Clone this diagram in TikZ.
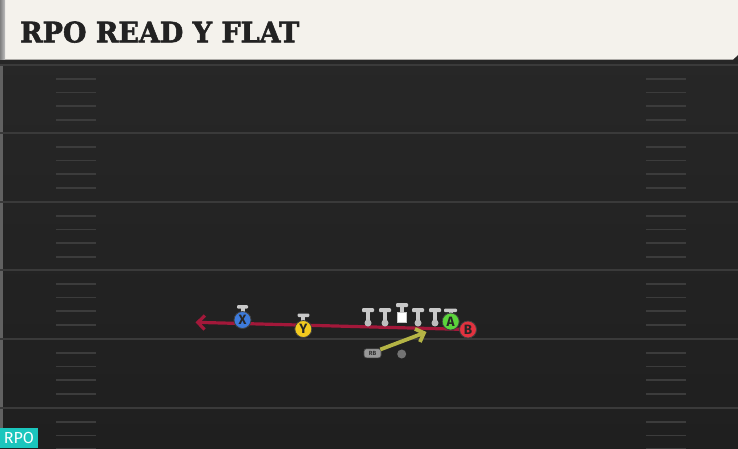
\documentclass[tikz,border=0pt]{standalone}
\usepackage{fontspec}
\setmainfont{DejaVu Serif}
\newfontfamily\titlefont{DejaVu Serif}[UprightFont=* Bold, UprightFeatures={FakeBold=2}]
\newfontfamily\fira{Fira Sans}
\usetikzlibrary{arrows.meta}
\definecolor{bgtop}{HTML}{282828}
\definecolor{bgbot}{HTML}{1F1F1F}
\definecolor{yardc}{HTML}{3A3A3A}
\definecolor{hashc}{HTML}{3C3C3C}
\definecolor{cream}{HTML}{F4F2EC}
\definecolor{titlec}{HTML}{222222}
\definecolor{teal}{HTML}{1BC6BD}
\definecolor{routered}{HTML}{A3183A}
\definecolor{routeyel}{HTML}{B4B445}
\definecolor{xblue}{HTML}{3D7BDC}
\definecolor{yyel}{HTML}{F3CB1F}
\definecolor{agreen}{HTML}{5BD43B}
\definecolor{bred}{HTML}{E2323F}
\definecolor{barc}{HTML}{C9C9C9}
\definecolor{dotc}{HTML}{BDBDBD}
\tikzset{
  yard/.style={draw=yardc, line width=2pt},
  hashmark/.style={draw=hashc, line width=1.6pt},
  skill/.style={circle, draw=black!75, line width=0.8pt, minimum size=17pt, inner sep=0pt,
    font=\fira\fontsize{13.5}{13.5}\selectfont\bfseries, text=black!85},
  stancebar/.style={fill=barc, rounded corners=1pt},
  linedot/.style={circle, fill=dotc, minimum size=7pt, inner sep=0pt},
  routeR/.style={draw=routered, line width=3.2pt, -{Straight Barb[length=7pt, width=14pt, line width=3.2pt]}},
  routeY/.style={draw=routeyel, line width=3.8pt, -{Straight Barb[length=7pt, width=14pt, line width=3.8pt]}},
}
\begin{document}
\begin{tikzpicture}[x=1pt,y=-1pt]
\useasboundingbox (0,0) rectangle (738,448);
% field
\shade[top color=bgtop, bottom color=bgbot] (0,0) rectangle (738,448);
\fill[yardc!80] (0,59) rectangle (2.5,448);
\foreach \y in {65,133,202,270,339,408} \draw[yard] (0,\y) -- (738,\y);
\foreach \y in {65,133,202,270,339,408}
  \foreach \k in {1,2,3,4} {
    \draw[hashmark] (56,\y+\k*13.75) -- (96,\y+\k*13.75);
    \draw[hashmark] (646,\y+\k*13.75) -- (686,\y+\k*13.75);
  }
% title bar
\fill[black!85] (0,59) rectangle (738,63.5);
\fill[cream] (0,0) -- (738,0) -- (738,55) -- (733,59.5) -- (0,59.5) -- cycle;
\shade[left color=black!50, right color=black!25] (0,0) rectangle (5,59.5);
\node[anchor=south west, inner sep=0pt, text=titlec] (title) at (20,43)
  {\resizebox{279pt}{21pt}{\titlefont RPO READ Y FLAT}};
% label bottom-left
\fill[teal] (0,428) rectangle (38,448);
\node[inner sep=0pt, text=white, font=\fira\fontsize{16}{16}\selectfont] (rpo) at (19,438.3) {RPO};
% player coordinates
\coordinate (pX) at (242.5,320);
\coordinate (pY) at (303.3,329);
\coordinate (pA) at (450.7,321.5);
\coordinate (pB) at (468,329.5);
\coordinate (tipR) at (195.5,322.3);
\coordinate (tipY) at (426.5,332);
% routes
\draw[routeR] (pB) -- (tipR);
% linemen
\foreach \x/\n in {368/L1,385/L2,418/L4,435/L5} {
  \fill[barc] (\x-2,311) rectangle (\x+2,322);
  \fill[stancebar] (\x-6,308) rectangle (\x+6,312);
  \node[linedot] (\n) at (\x,323) {};
}
\fill[barc] (400,306) rectangle (404,313);
\fill[stancebar] (396,303) rectangle (408,307);
\node[draw=barc, fill=white, line width=0.8pt, minimum width=9pt, minimum height=10pt, inner sep=0pt] (C) at (401.5,317) {};
% skill players' stance bars
\fill[barc] (240.5,308) rectangle (244.5,313);
\fill[stancebar] (237,305) rectangle (248,308.5);
\fill[barc] (301.3,316) rectangle (305.3,322);
\fill[stancebar] (297.7,313.5) rectangle (309.3,317);
\fill[barc] (448.7,311) rectangle (452.7,315);
\fill[stancebar] (444,308.5) rectangle (457,312);
\node[skill, fill=xblue] (X) at (pX) {X};
\node[skill, fill=yyel] (Y) at (pY) {Y};
\node[skill, fill=bred] (B) at (pB) {B};
\node[skill, fill=agreen] (A) at (pA) {A};
% backfield
\node[fill=black!40, draw=black!70, line width=0.6pt, rounded corners=2.5pt, minimum width=17pt, minimum height=9pt, inner sep=0pt,
  font=\fira\fontsize{6}{6}\selectfont\bfseries, text=black!80] (RB) at (372.5,353.3) {RB};
\node[circle, fill=black!55, minimum size=9pt, inner sep=0pt] (dot) at (401.7,354) {};
\draw[routeY] (RB.north east) ++(-1,1) -- (tipY);
\end{tikzpicture}
\end{document}
